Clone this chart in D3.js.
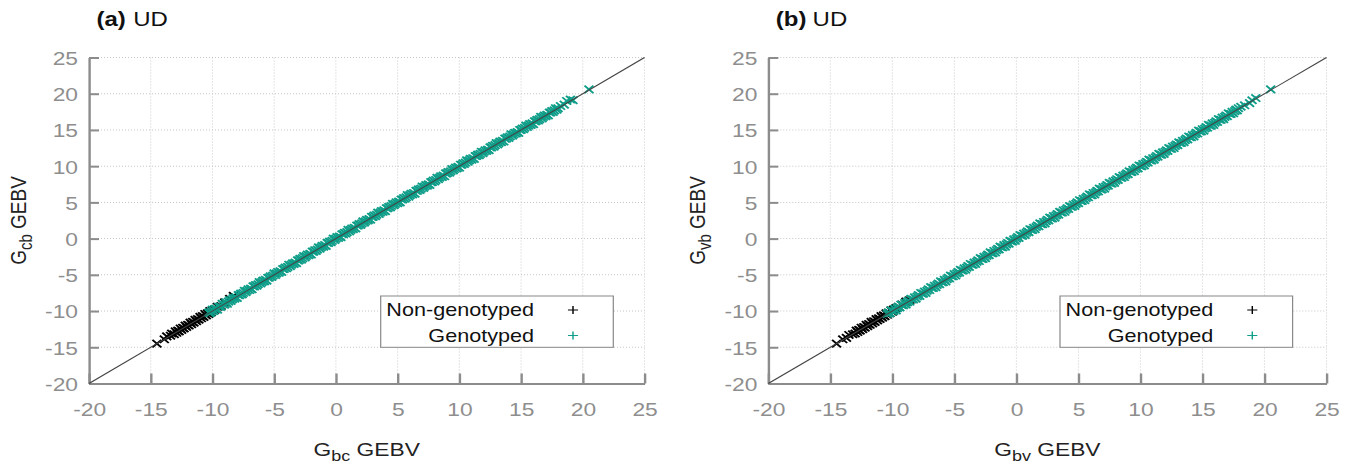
<!DOCTYPE html>
<html>
<head>
<meta charset="utf-8">
<script src="https://cdn.jsdelivr.net/npm/d3@7"></script>
<style>
  html, body { margin: 0; padding: 0; background: #fff; }
  svg { display: block; }
  text { font-family: "Liberation Sans", Arial, sans-serif; }
</style>
</head>
<body>
<svg id="chart"></svg>
<script>
// ---- data -------------------------------------------------------------
const axisTicks = [-20, -15, -10, -5, 0, 5, 10, 15, 20, 25];
const panelTags = ["(a)", "(b)"];
const panelModels = ["UD", "UD"];
const xLabelSubs = ["bc", "bv"];
const yLabelSubs = ["cb", "vb"];
const seriesNames = ["Non-genotyped", "Genotyped"];

// [x GEBV, y GEBV]
const nonGenotypedA = [
  [-14.5,-14.5],[-13.9,-13.9],[-13.7,-13.5],[-13.4,-13.4],[-13.3,-13.1],[-13.1,-13.2],
  [-13.0,-12.8],[-12.9,-13.0],[-12.8,-12.7],[-12.7,-12.8],[-12.6,-12.4],[-12.5,-12.6],
  [-12.4,-12.3],[-12.3,-12.4],[-12.2,-12.0],[-12.1,-12.2],[-12.0,-11.9],[-11.9,-12.0],
  [-11.8,-11.6],[-11.7,-11.8],[-11.6,-11.5],[-11.5,-11.6],[-11.4,-11.2],[-11.3,-11.4],
  [-11.2,-11.1],[-11.1,-11.2],[-11.0,-10.8],[-10.9,-11.0],[-10.8,-10.7],[-10.7,-10.8],
  [-10.6,-10.4],[-10.5,-10.6],[-10.4,-10.3],[-10.3,-10.4],[-10.2,-10.0],[-10.1,-10.2],
  [-10.0,-9.9],[-9.8,-9.8],[-9.6,-9.4],[-9.3,-9.3],[-9.0,-8.8],[-8.6,-8.3],[-8.3,-7.9]
];
const genotypedA = [
  [-10.3,-10.2],[-10.2,-10.3],[-10.1,-10.1],[-10.0,-9.8],[-9.9,-10.0],[-9.8,-9.7],[-9.7,-9.7],
  [-9.6,-9.8],[-9.5,-9.4],[-9.4,-9.4],[-9.3,-9.4],[-9.2,-9.0],[-9.1,-9.1],[-9.0,-9.1],
  [-8.9,-8.8],[-8.8,-9.0],[-8.7,-8.7],[-8.6,-8.5],[-8.5,-8.6],[-8.4,-8.4],[-8.3,-8.2],
  [-8.2,-8.3],[-8.1,-8.1],[-8.0,-8.2],[-7.9,-7.8],[-7.8,-7.8],[-7.7,-7.6],[-7.6,-7.7],
  [-7.5,-7.5],[-7.4,-7.2],[-7.3,-7.4],[-7.2,-7.2],[-7.1,-7.0],[-7.0,-7.1],[-6.9,-6.9],
  [-6.8,-7.0],[-6.7,-6.6],[-6.6,-6.6],[-6.5,-6.4],[-6.4,-6.5],[-6.3,-6.3],[-6.2,-6.0],
  [-6.1,-6.2],[-6.0,-6.0],[-5.9,-5.8],[-5.8,-5.9],[-5.7,-5.7],[-5.6,-5.8],[-5.5,-5.4],
  [-5.4,-5.4],[-5.3,-5.2],[-5.2,-5.3],[-5.1,-5.1],[-5.0,-4.8],[-4.9,-5.0],[-4.8,-4.8],
  [-4.7,-4.6],[-4.6,-4.7],[-4.5,-4.5],[-4.4,-4.6],[-4.3,-4.2],[-4.2,-4.2],[-4.1,-4.0],
  [-4.0,-4.1],[-3.9,-3.9],[-3.8,-3.6],[-3.7,-3.8],[-3.6,-3.6],[-3.5,-3.4],[-3.4,-3.5],
  [-3.3,-3.3],[-3.2,-3.4],[-3.1,-3.0],[-3.0,-3.0],[-2.9,-2.8],[-2.8,-2.9],[-2.7,-2.7],
  [-2.6,-2.4],[-2.5,-2.6],[-2.4,-2.4],[-2.3,-2.2],[-2.2,-2.3],[-2.1,-2.1],[-2.0,-2.2],
  [-1.9,-1.8],[-1.8,-1.8],[-1.7,-1.6],[-1.6,-1.7],[-1.5,-1.5],[-1.4,-1.2],[-1.3,-1.4],
  [-1.2,-1.2],[-1.1,-1.0],[-1.0,-1.1],[-0.9,-0.9],[-0.8,-1.0],[-0.7,-0.6],[-0.6,-0.6],
  [-0.5,-0.4],[-0.4,-0.5],[-0.3,-0.3],[-0.2,0.0],[-0.1,-0.2],[0.0,0.0],[0.1,0.2],
  [0.2,0.1],[0.3,0.3],[0.4,0.2],[0.5,0.6],[0.6,0.6],[0.7,0.8],[0.8,0.7],[0.9,0.9],
  [1.0,1.2],[1.1,1.0],[1.2,1.2],[1.3,1.4],[1.4,1.3],[1.5,1.5],[1.6,1.4],[1.7,1.8],
  [1.8,1.8],[1.9,2.0],[2.0,1.9],[2.1,2.1],[2.2,2.4],[2.3,2.2],[2.4,2.4],[2.5,2.6],
  [2.6,2.5],[2.7,2.7],[2.8,2.6],[2.9,3.0],[3.0,3.0],[3.1,3.2],[3.2,3.1],[3.3,3.3],
  [3.4,3.6],[3.5,3.4],[3.6,3.6],[3.7,3.8],[3.8,3.7],[3.9,3.9],[4.0,3.8],[4.1,4.2],
  [4.2,4.2],[4.3,4.4],[4.4,4.3],[4.5,4.5],[4.6,4.8],[4.7,4.6],[4.8,4.8],[4.9,5.0],
  [5.0,4.9],[5.1,5.1],[5.2,5.0],[5.3,5.4],[5.4,5.4],[5.5,5.6],[5.6,5.5],[5.7,5.7],
  [5.8,6.0],[5.9,5.8],[6.0,6.0],[6.1,6.2],[6.2,6.1],[6.3,6.3],[6.4,6.2],[6.5,6.6],
  [6.6,6.6],[6.7,6.8],[6.8,6.7],[6.9,6.9],[7.0,7.2],[7.1,7.0],[7.2,7.2],[7.3,7.4],
  [7.4,7.3],[7.5,7.5],[7.6,7.4],[7.7,7.8],[7.8,7.8],[7.9,8.0],[8.0,7.9],[8.1,8.1],
  [8.2,8.4],[8.3,8.2],[8.4,8.4],[8.5,8.6],[8.6,8.5],[8.7,8.7],[8.8,8.6],[8.9,9.0],
  [9.0,9.0],[9.1,9.2],[9.2,9.1],[9.3,9.3],[9.4,9.6],[9.5,9.4],[9.6,9.6],[9.7,9.8],
  [9.8,9.7],[9.9,9.9],[10.0,9.8],[10.1,10.2],[10.2,10.2],[10.3,10.4],[10.4,10.3],
  [10.5,10.5],[10.6,10.8],[10.7,10.6],[10.8,10.8],[10.9,11.0],[11.0,10.9],[11.1,11.1],
  [11.2,11.0],[11.3,11.4],[11.4,11.4],[11.5,11.6],[11.6,11.5],[11.7,11.7],[11.8,12.0],
  [11.9,11.8],[12.0,12.0],[12.1,12.2],[12.2,12.1],[12.3,12.3],[12.4,12.2],[12.5,12.6],
  [12.6,12.6],[12.7,12.8],[12.8,12.7],[12.9,12.9],[13.0,13.2],[13.1,13.0],[13.2,13.2],
  [13.3,13.4],[13.4,13.3],[13.5,13.5],[13.6,13.4],[13.7,13.8],[13.8,13.8],[13.9,14.0],
  [14.0,13.9],[14.1,14.1],[14.2,14.4],[14.3,14.2],[14.4,14.4],[14.5,14.6],[14.6,14.5],
  [14.7,14.7],[14.8,14.6],[14.9,15.0],[15.0,15.0],[15.1,15.2],[15.2,15.1],[15.3,15.3],
  [15.4,15.6],[15.5,15.4],[15.6,15.6],[15.7,15.8],[15.8,15.7],[15.9,15.9],[16.0,15.8],
  [16.1,16.2],[16.2,16.2],[16.3,16.4],[16.4,16.3],[16.5,16.5],[16.6,16.8],[16.7,16.6],
  [16.8,16.8],[16.9,17.0],[17.0,16.9],[17.1,17.1],[17.2,17.0],[17.3,17.4],[17.4,17.4],
  [17.5,17.6],[17.6,17.5],[17.7,17.7],[17.8,18.0],[17.9,17.8],[18.0,18.0],[18.2,18.3],
  [18.5,18.5],[18.7,19.0],[19.0,19.2],[19.2,19.1],[20.5,20.6]
];
const nonGenotypedB = [
  [-14.5,-14.5],[-14.0,-13.9],[-13.7,-13.7],[-13.5,-13.3],[-13.2,-13.2],[-13.0,-13.1],
  [-12.9,-12.7],[-12.8,-12.9],[-12.7,-12.6],[-12.6,-12.7],[-12.5,-12.3],[-12.4,-12.5],
  [-12.3,-12.2],[-12.2,-12.3],[-12.1,-11.9],[-12.0,-12.1],[-11.9,-11.8],[-11.8,-11.9],
  [-11.7,-11.5],[-11.6,-11.7],[-11.5,-11.4],[-11.4,-11.5],[-11.3,-11.1],[-11.2,-11.3],
  [-11.1,-11.0],[-11.0,-11.1],[-10.9,-10.7],[-10.8,-10.9],[-10.7,-10.6],[-10.6,-10.7],
  [-10.5,-10.3],[-10.4,-10.5],[-10.3,-10.2],[-10.2,-10.3],[-10.1,-9.9],[-10.0,-10.1],
  [-9.9,-9.8],[-9.7,-9.6],[-9.5,-9.4],[-9.2,-9.1],[-8.9,-8.7],[-8.6,-8.5]
];
const genotypedB = [
  [-10.4,-10.4],[-10.3,-10.2],[-10.2,-10.3],[-10.1,-9.9],[-10.0,-10.0],[-9.9,-10.0],
  [-9.8,-9.7],[-9.7,-9.9],[-9.6,-9.6],[-9.5,-9.4],[-9.4,-9.5],[-9.3,-9.1],[-9.2,-9.2],
  [-9.1,-9.2],[-9.0,-8.9],[-8.9,-9.1],[-8.8,-8.8],[-8.7,-8.6],[-8.6,-8.7],[-8.5,-8.3],
  [-8.4,-8.4],[-8.3,-8.4],[-8.2,-8.1],[-8.1,-8.3],[-8.0,-8.0],[-7.9,-7.8],[-7.8,-7.9],
  [-7.7,-7.5],[-7.6,-7.6],[-7.5,-7.6],[-7.4,-7.3],[-7.3,-7.5],[-7.2,-7.2],[-7.1,-7.0],
  [-7.0,-7.1],[-6.9,-6.7],[-6.8,-6.8],[-6.7,-6.8],[-6.6,-6.5],[-6.5,-6.7],[-6.4,-6.4],
  [-6.3,-6.2],[-6.2,-6.3],[-6.1,-5.9],[-6.0,-6.0],[-5.9,-6.0],[-5.8,-5.7],[-5.7,-5.9],
  [-5.6,-5.6],[-5.5,-5.4],[-5.4,-5.5],[-5.3,-5.1],[-5.2,-5.2],[-5.1,-5.2],[-5.0,-4.9],
  [-4.9,-5.1],[-4.8,-4.8],[-4.7,-4.6],[-4.6,-4.7],[-4.5,-4.3],[-4.4,-4.4],[-4.3,-4.4],
  [-4.2,-4.1],[-4.1,-4.3],[-4.0,-4.0],[-3.9,-3.8],[-3.8,-3.9],[-3.7,-3.5],[-3.6,-3.6],
  [-3.5,-3.6],[-3.4,-3.3],[-3.3,-3.5],[-3.2,-3.2],[-3.1,-3.0],[-3.0,-3.1],[-2.9,-2.7],
  [-2.8,-2.8],[-2.7,-2.8],[-2.6,-2.5],[-2.5,-2.7],[-2.4,-2.4],[-2.3,-2.2],[-2.2,-2.3],
  [-2.1,-1.9],[-2.0,-2.0],[-1.9,-2.0],[-1.8,-1.7],[-1.7,-1.9],[-1.6,-1.6],[-1.5,-1.4],
  [-1.4,-1.5],[-1.3,-1.1],[-1.2,-1.2],[-1.1,-1.2],[-1.0,-0.9],[-0.9,-1.1],[-0.8,-0.8],
  [-0.7,-0.6],[-0.6,-0.7],[-0.5,-0.3],[-0.4,-0.4],[-0.3,-0.4],[-0.2,-0.1],[-0.1,-0.3],
  [0.0,0.0],[0.1,0.2],[0.2,0.1],[0.3,0.5],[0.4,0.4],[0.5,0.4],[0.6,0.7],[0.7,0.5],
  [0.8,0.8],[0.9,1.0],[1.0,0.9],[1.1,1.3],[1.2,1.2],[1.3,1.2],[1.4,1.5],[1.5,1.3],
  [1.6,1.6],[1.7,1.8],[1.8,1.7],[1.9,2.1],[2.0,2.0],[2.1,2.0],[2.2,2.3],[2.3,2.1],
  [2.4,2.4],[2.5,2.6],[2.6,2.5],[2.7,2.9],[2.8,2.8],[2.9,2.8],[3.0,3.1],[3.1,2.9],
  [3.2,3.2],[3.3,3.4],[3.4,3.3],[3.5,3.7],[3.6,3.6],[3.7,3.6],[3.8,3.9],[3.9,3.7],
  [4.0,4.0],[4.1,4.2],[4.2,4.1],[4.3,4.5],[4.4,4.4],[4.5,4.4],[4.6,4.7],[4.7,4.5],
  [4.8,4.8],[4.9,5.0],[5.0,4.9],[5.1,5.3],[5.2,5.2],[5.3,5.2],[5.4,5.5],[5.5,5.3],
  [5.6,5.6],[5.7,5.8],[5.8,5.7],[5.9,6.1],[6.0,6.0],[6.1,6.0],[6.2,6.3],[6.3,6.1],
  [6.4,6.4],[6.5,6.6],[6.6,6.5],[6.7,6.9],[6.8,6.8],[6.9,6.8],[7.0,7.1],[7.1,6.9],
  [7.2,7.2],[7.3,7.4],[7.4,7.3],[7.5,7.7],[7.6,7.6],[7.7,7.6],[7.8,7.9],[7.9,7.7],
  [8.0,8.0],[8.1,8.2],[8.2,8.1],[8.3,8.5],[8.4,8.4],[8.5,8.4],[8.6,8.7],[8.7,8.5],
  [8.8,8.8],[8.9,9.0],[9.0,8.9],[9.1,9.3],[9.2,9.2],[9.3,9.2],[9.4,9.5],[9.5,9.3],
  [9.6,9.6],[9.7,9.8],[9.8,9.7],[9.9,10.1],[10.0,10.0],[10.1,10.0],[10.2,10.3],
  [10.3,10.1],[10.4,10.4],[10.5,10.6],[10.6,10.5],[10.7,10.9],[10.8,10.8],[10.9,10.8],
  [11.0,11.1],[11.1,10.9],[11.2,11.2],[11.3,11.4],[11.4,11.3],[11.5,11.7],[11.6,11.6],
  [11.7,11.6],[11.8,11.9],[11.9,11.7],[12.0,12.0],[12.1,12.2],[12.2,12.1],[12.3,12.5],
  [12.4,12.4],[12.5,12.4],[12.6,12.7],[12.7,12.5],[12.8,12.8],[12.9,13.0],[13.0,12.9],
  [13.1,13.3],[13.2,13.2],[13.3,13.2],[13.4,13.5],[13.5,13.3],[13.6,13.6],[13.7,13.8],
  [13.8,13.7],[13.9,14.1],[14.0,14.0],[14.1,14.0],[14.2,14.3],[14.3,14.1],[14.4,14.4],
  [14.5,14.6],[14.6,14.5],[14.7,14.9],[14.8,14.8],[14.9,14.8],[15.0,15.1],[15.1,14.9],
  [15.2,15.2],[15.3,15.4],[15.4,15.3],[15.5,15.7],[15.6,15.6],[15.7,15.6],[15.8,15.9],
  [15.9,15.7],[16.0,16.0],[16.1,16.2],[16.2,16.1],[16.3,16.5],[16.4,16.4],[16.5,16.4],
  [16.6,16.7],[16.7,16.5],[16.8,16.8],[16.9,17.0],[17.0,16.9],[17.1,17.3],[17.2,17.2],
  [17.3,17.2],[17.4,17.5],[17.5,17.3],[17.6,17.6],[17.7,17.8],[17.8,17.7],[17.9,18.0],
  [18.1,18.2],[18.4,18.4],[18.8,18.7],[19.0,19.1],[19.3,19.4],[20.5,20.6]
];

// ---- layout -----------------------------------------------------------
const W = 1352, H = 465;
const S = 1.2;                 // horizontal stretch of the whole figure
const px = v => v / S;         // screen x -> drawing x
const plotTop = 57.5, plotBottom = 383.5;
const colors = ["#000000", "#0f9e89"];
const gridColor = "#c6c6c6", axisColor = "#8c8c8c", tickTextColor = "#8e8e8e";
const fontSize = 19;

const panels = [
  { left: 89,    right: 644.5,  nonGeno: nonGenotypedA, geno: genotypedA, off: 0 },
  { left: 768.3, right: 1326.5, nonGeno: nonGenotypedB, geno: genotypedB, off: 679.3 }
];

const svg = d3.select("#chart")
  .attr("width", W).attr("height", H)
  .attr("viewBox", `0 0 ${W / S} ${H}`)
  .attr("preserveAspectRatio", "none");

const timesPath = a => `M${-a},${-a}L${a},${a}M${-a},${a}L${a},${-a}`;
const plusPath = (ax, ay) => `M${-ax},0L${ax},0M0,${-ay}L0,${ay}`;
const plainNumber = d => String(d);   // hyphen-minus, as in the printed axes

panels.forEach((p, i) => {
  const x = d3.scaleLinear().domain([-20, 25]).range([px(p.left), px(p.right)]);
  const y = d3.scaleLinear().domain([-20, 25]).range([plotBottom, plotTop]);
  const g = svg.append("g");

  // dotted grid
  g.append("g").selectAll("line").data(axisTicks.slice(1)).join("line")
    .attr("x1", d => x(d)).attr("x2", d => x(d))
    .attr("y1", plotTop).attr("y2", plotBottom)
    .attr("stroke", gridColor).attr("stroke-width", px(1))
    .attr("stroke-dasharray", "1,2");
  g.append("g").selectAll("line").data(axisTicks.slice(1)).join("line")
    .attr("x1", x(-20)).attr("x2", x(25))
    .attr("y1", d => y(d)).attr("y2", d => y(d))
    .attr("stroke", gridColor).attr("stroke-width", 1)
    .attr("stroke-dasharray", `${px(1)},${px(2)}`);

  // axes (ticks point inward)
  const styleAxis = sel => {
    sel.select(".domain").attr("stroke", axisColor).attr("stroke-width", 2);
    sel.selectAll(".tick line").attr("stroke", axisColor).attr("stroke-width", 2);
    sel.selectAll(".tick text")
      .attr("fill", tickTextColor)
      .style("font-family", '"Liberation Sans", Arial, sans-serif')
      .style("font-size", fontSize + "px");
  };
  g.append("g").attr("transform", `translate(0,${plotBottom})`)
    .call(d3.axisBottom(x).tickValues(axisTicks).tickFormat(plainNumber)
      .tickSizeInner(-10).tickSizeOuter(0).tickPadding(19.5))
    .call(styleAxis);
  g.append("g").attr("transform", `translate(${px(p.left)},0)`)
    .call(d3.axisLeft(y).tickValues(axisTicks).tickFormat(plainNumber)
      .tickSizeInner(-px(10)).tickSizeOuter(0).tickPadding(px(11)))
    .call(styleAxis)
    .call(sel => sel.selectAll(".tick text").attr("dy", "0.36em"));

  // points
  [p.nonGeno, p.geno].forEach((series, k) => {
    g.append("g").selectAll("path").data(series).join("path")
      .attr("transform", d => `translate(${x(d[0])},${y(d[1])})`)
      .attr("d", timesPath(3.7))
      .attr("fill", "none")
      .attr("stroke", colors[k])
      .attr("stroke-width", 1.7);
  });

  // y = x reference line
  g.append("line")
    .attr("x1", x(-20)).attr("y1", y(-20))
    .attr("x2", x(25)).attr("y2", y(25))
    .attr("stroke", "#444").attr("stroke-width", 1);

  // legend
  const lg = g.append("g");
  lg.append("rect")
    .attr("x", px(380.7 + p.off)).attr("y", 296)
    .attr("width", px(613.3 - 380.7)).attr("height", 51.3)
    .attr("fill", "#fff").attr("stroke", "#888").attr("stroke-width", 1);
  seriesNames.forEach((name, k) => {
    lg.append("text")
      .attr("x", px(534 + p.off)).attr("y", 316.5 + k * 25.5)
      .attr("text-anchor", "end")
      .attr("fill", "#111")
      .style("font-size", "18px")
      .text(name);
    lg.append("path")
      .attr("transform", `translate(${px(573 + p.off)},${310 + k * 25.5})`)
      .attr("d", plusPath(4.2, 4))
      .attr("fill", "none").attr("stroke", colors[k]).attr("stroke-width", 1.2);
  });

  // panel title
  g.append("text")
    .attr("x", px(96.5 + p.off)).attr("y", 26.5)
    .attr("fill", "#111").style("font-size", "20px").style("font-weight", "bold")
    .text(panelTags[i]);
  g.append("text")
    .attr("x", px(133.3 + p.off)).attr("y", 26.5)
    .attr("fill", "#111").style("font-size", "20px")
    .text(panelModels[i]);

  // axis titles
  const xt = g.append("text")
    .attr("x", px((p.left + p.right) / 2)).attr("y", 456)
    .attr("text-anchor", "middle").attr("fill", "#222")
    .style("font-size", fontSize + "px");
  xt.append("tspan").text("G");
  xt.append("tspan").attr("dy", 5).style("font-size", "15px").text(xLabelSubs[i]);
  xt.append("tspan").attr("dy", -5).text(" GEBV");

  const yt = g.append("text")
    .attr("transform", `translate(${px(26 + p.off)},${(plotTop + plotBottom) / 2}) rotate(-90)`)
    .attr("text-anchor", "middle").attr("fill", "#222")
    .style("font-size", fontSize + "px");
  yt.append("tspan").text("G");
  yt.append("tspan").attr("dy", 5).style("font-size", "15px").text(yLabelSubs[i]);
  yt.append("tspan").attr("dy", -5).text(" GEBV");
});
</script>
</body>
</html>
